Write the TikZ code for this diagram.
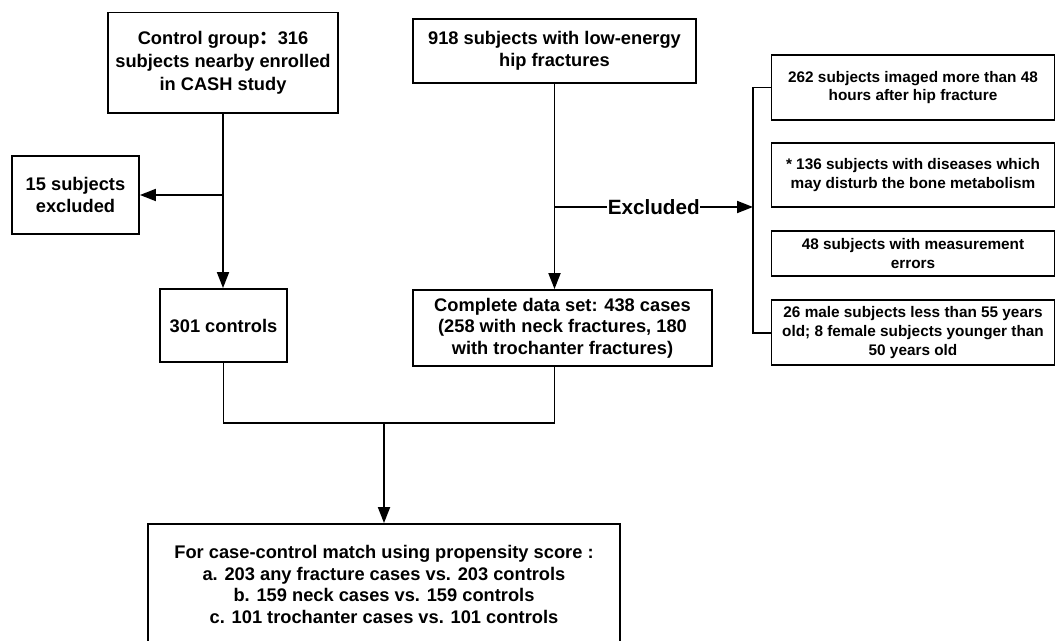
\documentclass[tikz,border=0pt]{standalone}
\usepackage{fontspec}
\setmainfont{Liberation Sans}
\newfontfamily\cjk{Noto Sans CJK SC}
\usetikzlibrary{positioning,arrows.meta}

\begin{document}
\begin{tikzpicture}[x=0.75pt, y=-0.75pt, >={Triangle[length=12pt,width=9pt]}, line width=1.4pt]
\tikzstyle{box}=[draw, align=center, inner sep=2pt, font=\bfseries\fontsize{13.7}{16.1}\selectfont]
\tikzstyle{side}=[box, minimum width=212.25pt, font=\bfseries\fontsize{11.5}{14.1}\selectfont]
\useasboundingbox (0,0) rectangle (1056,641);
\clip (0,0) rectangle (1056,641);

\node[box, minimum width=172.5pt, minimum height=75.4pt, font=\bfseries\fontsize{13.7}{17.6}\selectfont] (ctrl) at (223,62.75) {Control group{\cjk ：}316\\subjects nearby enrolled\\in CASH study};
\node[box, minimum width=212.25pt, minimum height=48pt] (hip) at (554.5,51) {918 subjects with low-energy\\hip fractures};
\node[box, minimum width=95.25pt, minimum height=58.5pt] (excl) at (75.5,195) {15 subjects\\excluded};
\node[box, minimum width=95.25pt, minimum height=54.75pt] (ctl) at (223.5,325.5) {301 controls};
\node[box, minimum width=224.25pt, minimum height=57pt] (data) at (562.5,328) {Complete data set: 438 cases\\(258 with neck fractures, 180\\with trochanter fractures)};

% excluded reasons
\node[side, minimum height=48.75pt] (img) at (913,87.5) {262 subjects imaged more than 48\\hours after hip fracture};
\node[side, minimum height=48pt, below=15.75pt of img] (dis) {* 136 subjects with diseases which\\may disturb the bone metabolism};
\node[side, minimum height=33.75pt, below=17pt of dis] (meas) {48 subjects with measurement\\errors};
\node[side, minimum height=48.75pt, below=16.5pt of meas] (age) {26 male subjects less than 55 years\\old; 8 female subjects younger than\\50 years old};

\node[box, minimum width=354pt, minimum height=90.75pt] (match) at (384,584.5) {For case-control match using propensity score :\\a. 203 any fracture cases vs. 203 controls\\b. 159 neck cases vs. 159 controls\\c. 101 trochanter cases vs. 101 controls};

\coordinate (split) at (223,195);
\coordinate (brk) at (753,207);
\coordinate (fork) at (hip.south |- brk);
\coordinate (join) at (384,423);

\draw[->] (ctrl.south) -- (ctrl.south |- ctl.north);
\draw[->] (split) -- (excl);
\draw[->] (hip) -- (hip.south |- data.north);
\draw[->] (fork) -- node[fill=white, inner sep=0.5pt, font=\bfseries\fontsize{15.5}{18}\selectfont]{Excluded} (brk);
\draw (img.west) -| (brk) |- (age.west);
\draw (ctl) |- (join);
\draw (hip.south |- data.south) |- (join);
\draw[->] (join) -- (match);
\end{tikzpicture}
\end{document}
